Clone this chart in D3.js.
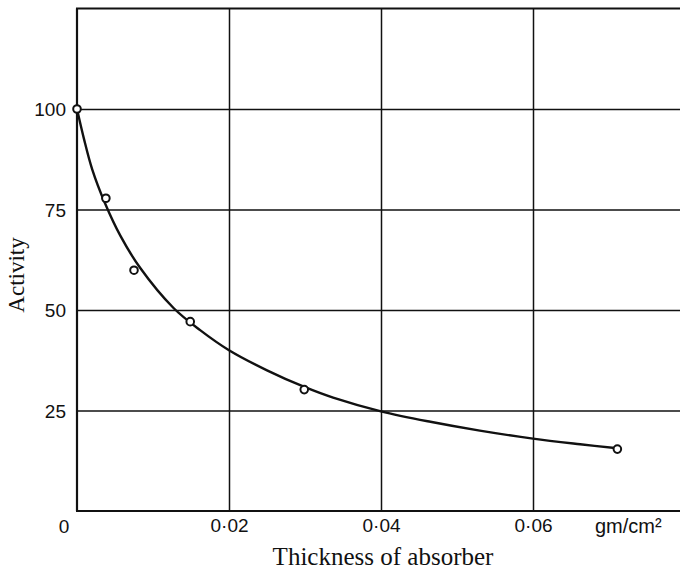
<!DOCTYPE html>
<html>
<head>
<meta charset="utf-8">
<script src="https://cdn.jsdelivr.net/npm/d3@7"></script>
<style>
  html, body { margin: 0; padding: 0; background: #fff; }
  svg { display: block; }
</style>
</head>
<body>
<svg id="chart" width="680" height="574"></svg>
<script>
// Measured points (thickness in gm/cm², activity)
const pointX = [0, 0.0038, 0.0075, 0.0149, 0.0299, 0.0711];
const pointY = [100, 77.8, 59.9, 47.1, 30.2, 15.4];

// Hand-drawn fitted curve
const curveX = [0, 0.0009, 0.002, 0.0037, 0.0057, 0.0083, 0.0127, 0.0162, 0.02, 0.025, 0.03, 0.0337, 0.04, 0.0465, 0.053, 0.06, 0.0662, 0.0711];
const curveY = [100, 92.7, 85, 76.5, 68.5, 60.5, 50.5, 45, 40, 35, 30.8, 28.2, 24.8, 22.2, 20.0, 18.0, 16.6, 15.6];

const yTicks = [25, 50, 75, 100];
const xTicks = [0.02, 0.04, 0.06];
const xTickLabels = ["0·02", "0·04", "0·06"];

const ink = "#111";
const svg = d3.select("#chart");

const x = d3.scaleLinear().domain([0, 0.08]).range([77, 685]);
const y = d3.scaleLinear().domain([0, 125]).range([511, 8.5]);

const sans = "'Liberation Sans', Arial, sans-serif";
const serif = "'Liberation Serif', 'Times New Roman', serif";

// Horizontal grid + y labels
const yAxis = d3.axisLeft(y)
  .tickValues(yTicks)
  .tickSize(-(x.range()[1] - x.range()[0]))
  .tickPadding(11)
  .tickFormat(d3.format("d"));
const gy = svg.append("g").attr("transform", `translate(${x(0)},0)`).call(yAxis);
gy.select(".domain").remove();
gy.selectAll(".tick line").attr("stroke", ink).attr("stroke-width", 1.5);
gy.selectAll(".tick text")
  .attr("fill", ink)
  .style("font-family", sans)
  .style("font-size", "19px")
  .attr("dy", "0.36em");

// Vertical grid + x labels
const xAxis = d3.axisBottom(x)
  .tickValues(xTicks)
  .tickSize(-(y(0) - y(125)))
  .tickPadding(8)
  .tickFormat((d, i) => xTickLabels[i]);
const gx = svg.append("g").attr("transform", `translate(0,${y(0)})`).call(xAxis);
gx.select(".domain").remove();
gx.selectAll(".tick line").attr("stroke", ink).attr("stroke-width", 1.5);
gx.selectAll(".tick text")
  .attr("fill", ink)
  .style("font-family", sans)
  .style("font-size", "19px");

// Origin label
svg.append("text")
  .attr("x", 64).attr("y", 533)
  .attr("text-anchor", "middle")
  .attr("fill", ink)
  .style("font-family", sans).style("font-size", "19px")
  .text("0");

// Units label
svg.append("text")
  .attr("x", 595).attr("y", 533)
  .attr("fill", ink)
  .style("font-family", sans).style("font-size", "20px")
  .text("gm/cm²");

// Frame: left axis, bottom axis, top border
svg.append("line").attr("x1", x(0)).attr("x2", x(0)).attr("y1", y(125)).attr("y2", y(0))
  .attr("stroke", ink).attr("stroke-width", 2.2);
svg.append("line").attr("x1", x(0) - 1).attr("x2", x(0.08)).attr("y1", y(0)).attr("y2", y(0))
  .attr("stroke", ink).attr("stroke-width", 2.2);
svg.append("line").attr("x1", x(0) - 1).attr("x2", x(0.08)).attr("y1", y(125)).attr("y2", y(125))
  .attr("stroke", ink).attr("stroke-width", 2.2);

// Fitted curve
const curveData = curveX.map((v, i) => [v, curveY[i]]);
svg.append("path")
  .datum(curveData)
  .attr("fill", "none")
  .attr("stroke", ink)
  .attr("stroke-width", 2.4)
  .attr("d", d3.line().x(d => x(d[0])).y(d => y(d[1])).curve(d3.curveCatmullRom.alpha(0.5)));

// Data points
const pts = pointX.map((v, i) => [v, pointY[i]]);
svg.selectAll("circle.pt")
  .data(pts)
  .join("circle")
  .attr("class", "pt")
  .attr("cx", d => x(d[0]))
  .attr("cy", d => y(d[1]))
  .attr("r", 3.8)
  .attr("fill", "#fff")
  .attr("stroke", ink)
  .attr("stroke-width", 2);

// Axis titles
svg.append("text")
  .attr("x", 383).attr("y", 565)
  .attr("text-anchor", "middle")
  .attr("fill", ink)
  .style("font-family", serif).style("font-size", "25px")
  .text("Thickness of absorber");

svg.append("text")
  .attr("transform", "translate(24,275) rotate(-90)")
  .attr("text-anchor", "middle")
  .attr("fill", ink)
  .style("font-family", serif).style("font-size", "23px")
  .text("Activity");
</script>
</body>
</html>
